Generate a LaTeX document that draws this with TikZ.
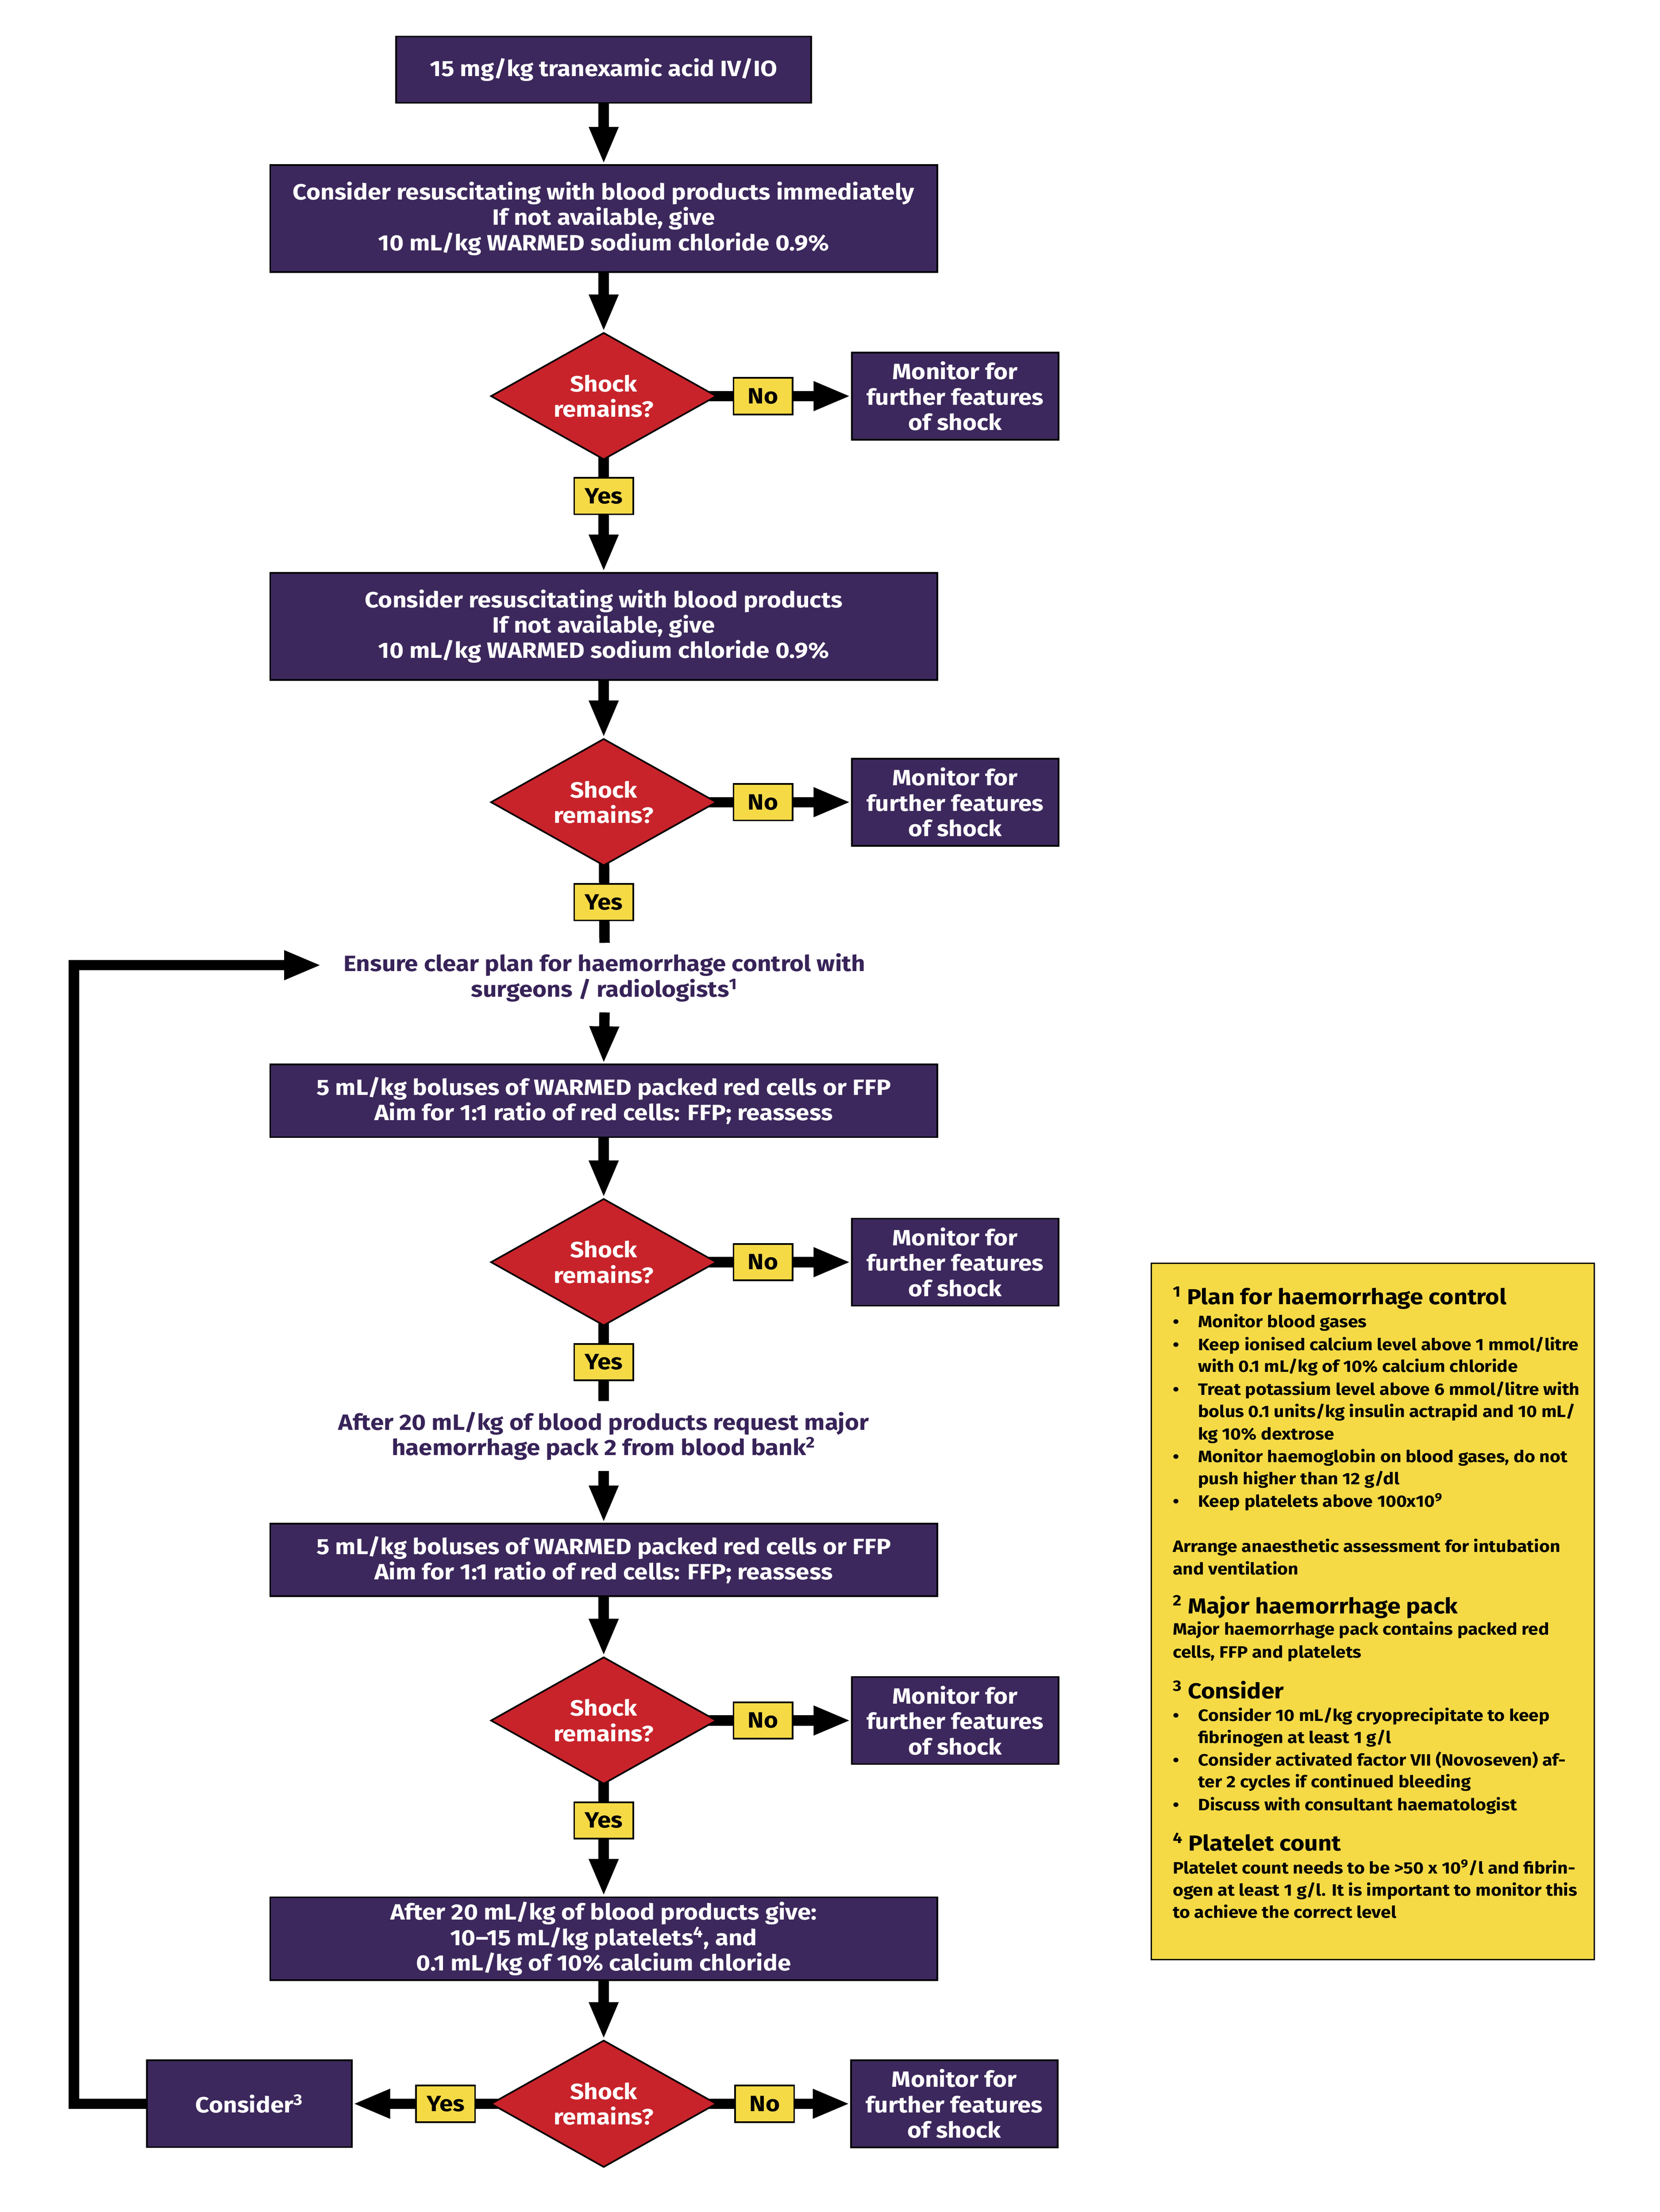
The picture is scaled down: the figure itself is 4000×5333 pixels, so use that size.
\documentclass[tikz,border=0pt]{standalone}
\usepackage{fontspec}
\setmainfont{Fira Sans}[FakeStretch=1.1]
\usetikzlibrary{shapes.geometric,arrows.meta,backgrounds}
\definecolor{boxpurple}{RGB}{60,40,92}
\definecolor{dred}{RGB}{200,35,43}
\definecolor{lyellow}{RGB}{245,218,70}
\definecolor{txtpurple}{RGB}{55,35,88}
\newcommand\mainfs{\fontsize{15.15}{17.4}\selectfont\bfseries}
\newcommand\notefs{\fontsize{11.3}{15.4}\selectfont\bfseries}
\newcommand\headfs{\fontsize{14.85}{17}\selectfont\bfseries}
\newcommand\ntxt[3]{\node[note] (#1) at (2826,#2) {#3};}
\newcommand\nbul[3]{\node[note] (#1) at (2826,#2) {\makebox[0.61cm][l]{\textbullet}#3};}
\newcommand\ncont[3]{\node[note] (#1) at (2887,#2) {#3};}
\newcommand\nhead[3]{\node[note,font=\headfs] (#1) at (2826,#2) {#3};}
\begin{document}
\begin{tikzpicture}[x=0.01cm,y=-0.01cm,
  pbox/.style={draw=black,line width=0.04cm,fill=boxpurple,text=white,font=\mainfs,align=center,inner sep=0pt},
  wide/.style={pbox,minimum width=16.07cm},
  mon/.style={pbox,minimum width=4.98cm,minimum height=2.1cm},
  dia/.style={diamond,draw=black,line width=0.04cm,fill=dred,text=white,font=\mainfs,align=center,inner xsep=-0.5cm,inner ysep=-0.3cm,minimum width=5.44cm,minimum height=3.06cm},
  lab/.style={draw=black,line width=0.04cm,fill=lyellow,text=black,font=\mainfs,inner sep=0pt,minimum width=1.42cm,minimum height=0.88cm},
  ptxt/.style={text=txtpurple,font=\mainfs,align=center,inner xsep=0.1cm,inner ysep=0.25cm},
  arr/.style={line width=0.25cm,-{Triangle[length=0.9cm,width=0.65cm]}},
  plainln/.style={line width=0.25cm},
  note/.style={font=\notefs,anchor=base west,inner sep=0pt,text=black},
  ]
\useasboundingbox (0,0) rectangle (4000,5333);

% main column
\node[pbox,minimum width=10cm,minimum height=1.6cm] (a) at (1455,168) {15 mg/kg tranexamic acid IV/IO};
\node[wide,minimum height=2.58cm] (b) at (1455,527) {Consider resuscitating with blood products immediately\\If not available, give\\10 mL/kg WARMED sodium chloride 0.9\%};
\node[dia] (d1) at (1455,955) {Shock\\remains?};
\node[mon] (m1) at (2302,955) {Monitor for\\further features\\of shock};
\node[wide,minimum height=2.58cm] (c) at (1455,1510) {Consider resuscitating with blood products\\If not available, give\\10 mL/kg WARMED sodium chloride 0.9\%};
\node[dia] (d2) at (1455,1934) {Shock\\remains?};
\node[mon] (m2) at (2302,1934) {Monitor for\\further features\\of shock};
\node[ptxt] (ens) at (1457,2357) {Ensure clear plan for haemorrhage control with\\surgeons / radiologists\textsuperscript{1}};
\node[wide,minimum height=1.75cm] (dd) at (1455,2654) {5 mL/kg boluses of WARMED packed red cells or FFP\\Aim for 1:1 ratio of red cells: FFP; reassess};
\node[dia] (d3) at (1455,3043) {Shock\\remains?};
\node[mon] (m3) at (2302,3043) {Monitor for\\further features\\of shock};
\node[ptxt] (aft) at (1455,3462) {After 20 mL/kg of blood products request major\\haemorrhage pack 2 from blood bank\textsuperscript{2}};
\node[wide,minimum height=1.75cm] (e) at (1455,3761) {5 mL/kg boluses of WARMED packed red cells or FFP\\Aim for 1:1 ratio of red cells: FFP; reassess};
\node[dia] (d4) at (1455,4148) {Shock\\remains?};
\node[mon] (m4) at (2302,4148) {Monitor for\\further features\\of shock};
\node[wide,minimum height=2cm] (f) at (1455,4674) {After 20 mL/kg of blood products give:\\10--15 mL/kg platelets\textsuperscript{4}, and\\0.1 mL/kg of 10\% calcium chloride};
\node[dia] (d5) at (1455,5072) {Shock\\remains?};
\node[pbox,minimum width=4.94cm,minimum height=2.09cm] (cons) at (601,5072) {Consider\textsuperscript{3}};
\node[mon] (m5) at (2300,5072) {Monitor for\\further features\\of shock};

\coordinate (lc1) at (178,5072);
\coordinate (lc2) at (178,2327);
\coordinate (looptip) at (775,2327);

\begin{scope}[on background layer]
\fill[white] (0,0) rectangle (4000,5333);
\draw[arr] (a.south) -- (b.north);
\draw[arr] (b.south) -- (d1.north);
\draw[arr] (d1.center) -- (m1.west);
\draw[arr] (d1.center) -- (c.north);
\draw[arr] (c.south) -- (d2.north);
\draw[arr] (d2.center) -- (m2.west);
\draw[plainln] (d2.center) -- (ens.north);
\draw[arr] (ens.south) -- (dd.north);
\draw[arr] (dd.south) -- (d3.north);
\draw[arr] (d3.center) -- (m3.west);
\draw[plainln] (d3.center) -- (aft.north);
\draw[arr] (aft.south) -- (e.north);
\draw[arr] (e.south) -- (d4.north);
\draw[arr] (d4.center) -- (m4.west);
\draw[arr] (d4.center) -- (f.north);
\draw[arr] (f.south) -- (d5.north);
\draw[arr] (d5.center) -- (m5.west);
\draw[arr] (d5.center) -- (cons.east);
\draw[arr,line join=miter] (cons.west) -- (lc1) -- (lc2) -- (looptip);
\end{scope}

% yes / no labels
\node[lab] (no1) at (1839,955) {No};
\node[lab] (yes1) at (1455,1196) {Yes};
\node[lab] (no2) at (1839,1934) {No};
\node[lab] (yes2) at (1455,2175) {Yes};
\node[lab] (no3) at (1839,3043) {No};
\node[lab] (yes3) at (1455,3284) {Yes};
\node[lab] (no4) at (1839,4148) {No};
\node[lab] (yes4) at (1455,4389) {Yes};
\node[lab] (no5) at (1843,5072) {No};
\node[lab] (yes5) at (1074,5072) {Yes};

% notes box
\node[draw=black,line width=0.04cm,fill=lyellow,minimum width=10.67cm,minimum height=16.78cm,inner sep=0pt] (notes) at (3308.5,3885) {};
\nhead{h1}{3145}{\textsuperscript{1} Plan for haemorrhage control}
\nbul{n1}{3200}{Monitor blood gases}
\nbul{n2}{3256}{Keep ionised calcium level above 1 mmol/litre}
\ncont{n3}{3308}{with 0.1 mL/kg of 10\% calcium chloride}
\nbul{n4}{3363}{Treat potassium level above 6 mmol/litre with}
\ncont{n5}{3417}{bolus 0.1 units/kg insulin actrapid and 10 mL/}
\ncont{n6}{3471}{kg 10\% dextrose}
\nbul{n7}{3526}{Monitor haemoglobin on blood gases, do not}
\ncont{n8}{3579}{push higher than 12 g/dl}
\nbul{n9}{3633}{Keep platelets above 100x10\textsuperscript{9}}
\ntxt{n10}{3742}{Arrange anaesthetic assessment for intubation}
\ntxt{n11}{3796}{and ventilation}
\nhead{h2}{3890}{\textsuperscript{2} Major haemorrhage pack}
\ntxt{n12}{3942}{Major haemorrhage pack contains packed red}
\ntxt{n13}{3997}{cells, FFP and platelets}
\nhead{h3}{4095}{\textsuperscript{3} Consider}
\nbul{n14}{4150}{Consider 10 mL/kg cryoprecipitate to keep}
\ncont{n15}{4203}{fibrinogen at least 1 g/l}
\nbul{n16}{4257}{Consider activated factor VII (Novoseven) af-}
\ncont{n17}{4310}{ter 2 cycles if continued bleeding}
\nbul{n18}{4365}{Discuss with consultant haematologist}
\nhead{h4}{4462}{\textsuperscript{4} Platelet count}
\ntxt{n19}{4517}{Platelet count needs to be >50 x 10\textsuperscript{9}/l and fibrin-}
\ntxt{n20}{4571}{ogen at least 1 g/l. It is important to monitor this}
\ntxt{n21}{4624}{to achieve the correct level}
\end{tikzpicture}
\end{document}
